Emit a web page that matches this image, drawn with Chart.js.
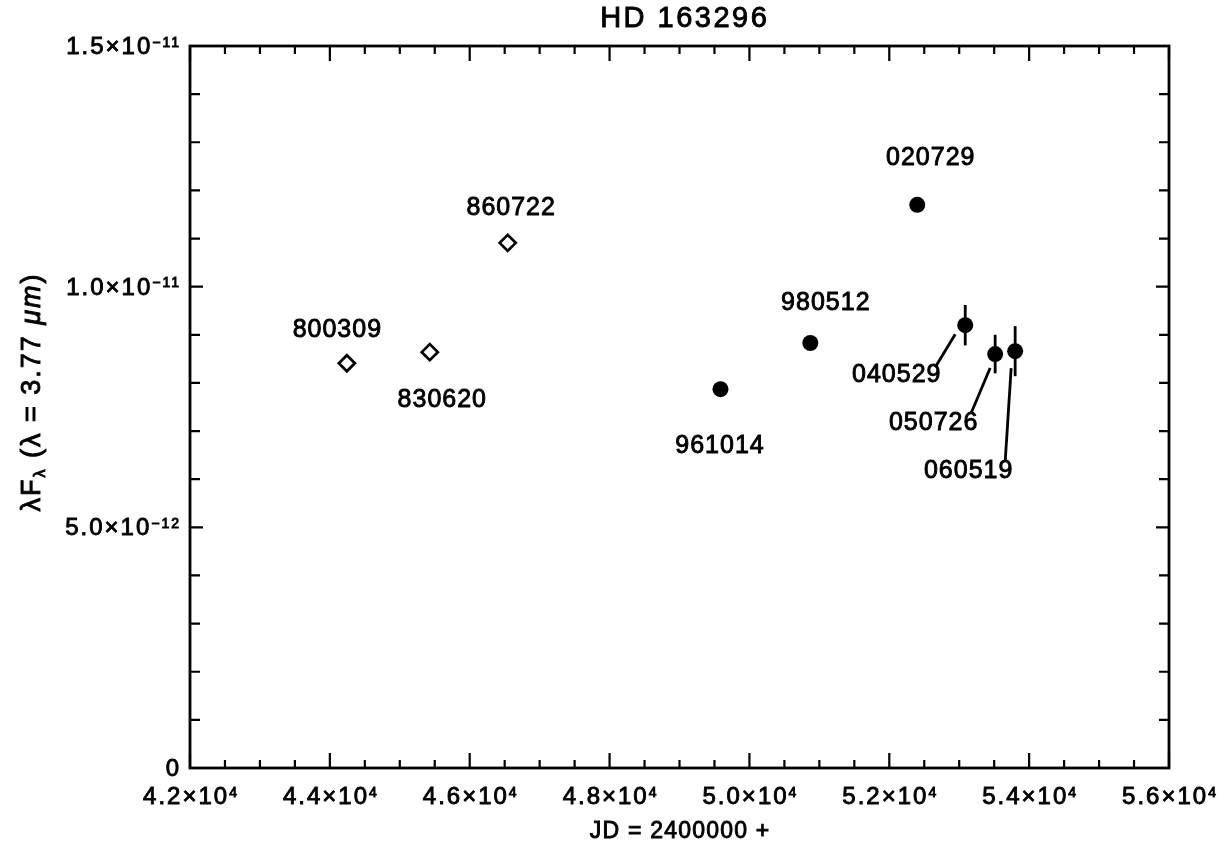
<!DOCTYPE html>
<html>
<head>
<meta charset="utf-8">
<script src="https://cdn.jsdelivr.net/npm/chart.js@4.4.0/dist/chart.umd.min.js"></script>
<style>
    html, body { margin: 0; padding: 0; background: #fff; }
</style>
</head>
<body>
<canvas id="lightCurve" width="1231" height="846"></canvas>
<script>
// observation epochs (yymmdd), JD - 2400000, flux and 1-sigma errors
const epochLabels = ['800309', '830620', '860722', '961014', '980512', '020729', '040529', '050726', '060519'];
const julianDates = [44243, 45429, 46543, 49586, 50871, 52400, 53086, 53514, 53800];
const fluxValues = [8.41e-12, 8.64e-12, 10.91e-12, 7.87e-12, 8.83e-12, 11.70e-12, 9.20e-12, 8.60e-12, 8.66e-12];
const fluxErrors = [0, 0, 0, 0, 0, 0, 0.42e-12, 0.40e-12, 0.52e-12];
const markerKind = ['open', 'open', 'open', 'filled', 'filled', 'filled', 'filled', 'filled', 'filled'];

const xTickValues = [42000, 44000, 46000, 48000, 50000, 52000, 54000, 56000];
const xTickLabels = ['4.2×10^4', '4.4×10^4', '4.6×10^4', '4.8×10^4', '5.0×10^4', '5.2×10^4', '5.4×10^4', '5.6×10^4'];
const yTickValues = [0, 5e-12, 1e-11, 1.5e-11];
const yTickLabels = ['0', '5.0×10^−12', '1.0×10^−11', '1.5×10^−11'];
const xMinorStep = 500;
const yMinorStep = 1e-12;

const chartTitle = 'HD 163296';
const xTitle = 'JD = 2400000 +';

// label placement, pixels from the marker
const labelOffsets = [[-10, -33], [12, 48], [3, -35], [-1, 57], [15, -40], [13, -47], [-69, 50], [-62, 69], [-47, 120]];
const leaderLines = {
    6: [[-30, 42], [-10, 9]],
    7: [[-24, 59], [-5, 14]],
    8: [[-10, 111], [-4, 17]]
};

const FONT = '"Liberation Sans", Arial, sans-serif';
const INK = 0.9;

function pointsOf(kind) {
    const pts = [];
    for (let i = 0; i < julianDates.length; i++) {
        if (markerKind[i] === kind) {
            pts.push({ x: julianDates[i], y: fluxValues[i], idx: i });
        }
    }
    return pts;
}

function inkText(ctx, t, x, y) {
    ctx.fillText(t, x, y);
    ctx.strokeText(t, x, y);
}

// text with an optional ^exponent
function drawSupText(ctx, text, x, y, align, size, spacing) {
    const parts = text.split('^');
    const base = parts[0];
    const exp = parts[1] || '';
    const expSize = Math.round(size * 0.58);
    ctx.letterSpacing = spacing + 'px';
    ctx.font = size + 'px ' + FONT;
    const wb = ctx.measureText(base).width;
    ctx.font = expSize + 'px ' + FONT;
    const we = exp ? ctx.measureText(exp).width : 0;
    const total = wb + we - spacing;
    let start = x;
    if (align === 'center') start = x - total / 2;
    if (align === 'right') start = x - total;
    ctx.textAlign = 'left';
    ctx.textBaseline = 'alphabetic';
    ctx.lineWidth = INK;
    ctx.font = size + 'px ' + FONT;
    inkText(ctx, base, start, y);
    if (exp) {
        ctx.font = expSize + 'px ' + FONT;
        inkText(ctx, exp, start + wb, y - size * 0.3);
    }
}

const decorPlugin = {
    id: 'decor',
    beforeDatasetsDraw(chart) {
        const ctx = chart.ctx;
        const xs = chart.scales.x, ys = chart.scales.y;
        ctx.save();
        ctx.strokeStyle = '#000';
        ctx.lineWidth = 2.8;
        for (let i = 0; i < julianDates.length; i++) {
            if (!fluxErrors[i]) continue;
            const px = xs.getPixelForValue(julianDates[i]);
            ctx.beginPath();
            ctx.moveTo(px, ys.getPixelForValue(fluxValues[i] - fluxErrors[i]));
            ctx.lineTo(px, ys.getPixelForValue(fluxValues[i] + fluxErrors[i]));
            ctx.stroke();
        }
        ctx.restore();
    },
    afterDraw(chart) {
        const ctx = chart.ctx;
        const xs = chart.scales.x, ys = chart.scales.y;
        const area = chart.chartArea;
        ctx.save();
        ctx.strokeStyle = '#000';
        ctx.fillStyle = '#000';
        ctx.lineWidth = 2.8;
        ctx.strokeRect(area.left, area.top, area.right - area.left, area.bottom - area.top);

        // ticks pointing inward on all four sides
        ctx.lineWidth = 2.2;
        ctx.beginPath();
        for (let v = xs.min; v <= xs.max + 1; v += xMinorStep) {
            const px = xs.getPixelForValue(v);
            const len = xTickValues.includes(v) ? 15 : 8;
            ctx.moveTo(px, area.bottom); ctx.lineTo(px, area.bottom - len);
            ctx.moveTo(px, area.top); ctx.lineTo(px, area.top + len);
        }
        for (let k = 0; k <= Math.round((ys.max - ys.min) / yMinorStep); k++) {
            const v = ys.min + k * yMinorStep;
            const py = ys.getPixelForValue(v);
            const len = k % 5 === 0 ? 13 : 10;
            ctx.moveTo(area.left, py); ctx.lineTo(area.left + len, py);
            ctx.moveTo(area.right, py); ctx.lineTo(area.right - len, py);
        }
        ctx.stroke();

        // tick labels
        xTickValues.forEach((v, i) => {
            drawSupText(ctx, xTickLabels[i], xs.getPixelForValue(v), area.bottom + 36, 'center', 24, 2);
        });
        yTickValues.forEach((v, i) => {
            drawSupText(ctx, yTickLabels[i], area.left - 11, ys.getPixelForValue(v) + 8, 'right', 24, 2);
        });

        // titles
        const cx = (area.left + area.right) / 2;
        drawSupText(ctx, chartTitle, cx + 4, 27, 'center', 29, 2.5);
        drawSupText(ctx, xTitle, cx, 838, 'center', 23, 1.2);

        // y title, rotated, with subscript and italic unit
        ctx.save();
        ctx.translate(40, 392);
        ctx.rotate(-Math.PI / 2);
        ctx.letterSpacing = '2px';
        ctx.lineWidth = INK;
        const runs = [
            { t: 'λF', f: '27px ' + FONT, dy: 0 },
            { t: 'λ', f: '16px ' + FONT, dy: 5 },
            { t: ' (λ = 3.77 ', f: '27px ' + FONT, dy: 0 },
            { t: 'μm', f: 'italic 27px ' + FONT, dy: 0 },
            { t: ')', f: '27px ' + FONT, dy: 0 }
        ];
        let total = 0;
        runs.forEach(r => { ctx.font = r.f; r.w = ctx.measureText(r.t).width; total += r.w; });
        let pos = -total / 2;
        ctx.textAlign = 'left';
        ctx.textBaseline = 'alphabetic';
        runs.forEach(r => { ctx.font = r.f; inkText(ctx, r.t, pos, r.dy); pos += r.w; });
        ctx.restore();

        // epoch labels and leader lines
        ctx.letterSpacing = '1px';
        ctx.font = '25px ' + FONT;
        ctx.textAlign = 'center';
        ctx.textBaseline = 'middle';
        for (let i = 0; i < epochLabels.length; i++) {
            const px = xs.getPixelForValue(julianDates[i]);
            const py = ys.getPixelForValue(fluxValues[i]);
            ctx.lineWidth = INK;
            inkText(ctx, epochLabels[i], px + labelOffsets[i][0] + 0.5, py + labelOffsets[i][1]);
            const seg = leaderLines[i];
            if (seg) {
                ctx.lineWidth = 2.8;
                ctx.beginPath();
                ctx.moveTo(px + seg[0][0], py + seg[0][1]);
                ctx.lineTo(px + seg[1][0], py + seg[1][1]);
                ctx.stroke();
            }
        }
        ctx.restore();
    }
};

const ctx = document.getElementById('lightCurve').getContext('2d');
const lightCurve = new Chart(ctx, {
    type: 'scatter',
    data: {
        datasets: [
            {
                label: 'older',
                data: pointsOf('open'),
                pointStyle: 'rectRot',
                pointRadius: 8,
                borderColor: '#000',
                backgroundColor: '#fff',
                borderWidth: 2.8
            },
            {
                label: 'recent',
                data: pointsOf('filled'),
                pointStyle: 'circle',
                pointRadius: 8,
                borderColor: '#000',
                backgroundColor: '#000',
                borderWidth: 0
            }
        ]
    },
    options: {
        responsive: false,
        devicePixelRatio: 1,
        animation: false,
        layout: { padding: { top: 46, right: 62, left: 0, bottom: 0 } },
        plugins: {
            legend: { display: false },
            tooltip: { enabled: false }
        },
        scales: {
            x: {
                type: 'linear',
                min: 42000,
                max: 56000,
                grid: { display: false },
                border: { display: false },
                ticks: { display: false },
                afterFit(scale) {
                    scale.height = 78;
                    scale.paddingLeft = 0;
                    scale.paddingRight = 0;
                }
            },
            y: {
                type: 'linear',
                min: 0,
                max: 1.5e-11,
                grid: { display: false },
                border: { display: false },
                ticks: { display: false, stepSize: 5e-12 },
                afterFit(scale) {
                    scale.width = 190;
                    scale.paddingTop = 0;
                    scale.paddingBottom = 0;
                }
            }
        }
    },
    plugins: [decorPlugin]
});
</script>
</body>
</html>
